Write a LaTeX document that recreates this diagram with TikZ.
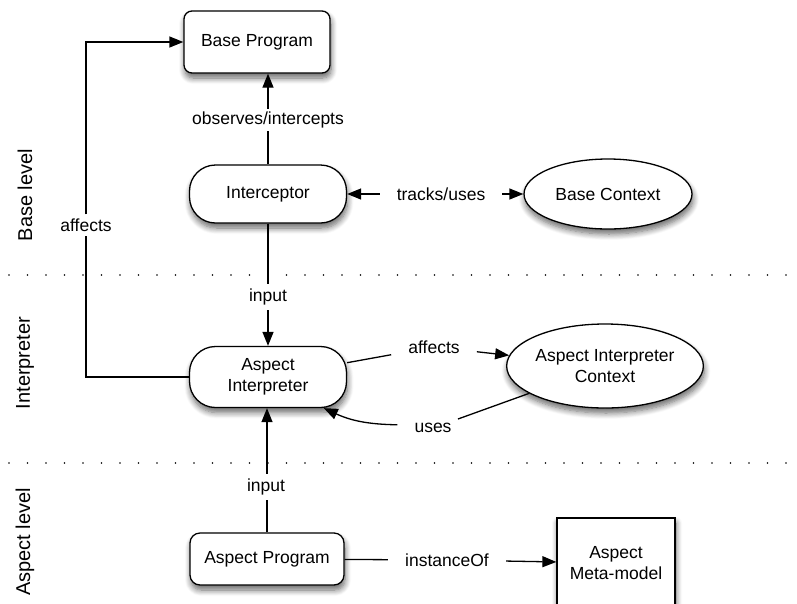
\documentclass[tikz,border=0pt]{standalone}
\usepackage{fontspec}
\setmainfont{Liberation Sans}
\usetikzlibrary{arrows.meta,shapes.geometric,shadows.blur}
\begin{document}
\begin{tikzpicture}[x=1pt,y=-1pt,
  font=\fontsize{17.5}{21.5}\selectfont,
  base/.style={draw=black,line width=1.3pt,fill=white,align=center,inner sep=0pt,
    blur shadow={shadow xshift=1pt,shadow yshift=-5pt,shadow blur steps=8,shadow blur radius=6pt,shadow opacity=60}},
  rbox/.style={base,rectangle,rounded corners=#1},
  ell/.style={base,ellipse},
  conn/.style={line width=1.3pt},
  arr/.style={conn,-{Triangle[length=14pt,width=11pt]}},
  larr/.style={conn,{Triangle[length=14pt,width=11pt]}-},
  lbl/.style={inner xsep=17pt,inner ysep=4pt},
  vlbl/.style={rotate=90,font=\fontsize{20}{24}\selectfont},
  sep/.style={line width=1.8pt,line cap=round,dash pattern=on 0pt off 18.5pt}
]
\useasboundingbox (0,0) rectangle (797,603);
% level separators
\draw[sep] (9,275) -- (797,275);
\draw[sep] (9,463) -- (797,463);
% level labels
\node[vlbl] (lvbase) at (25,195) {Base level};
\node[vlbl] (lvint) at (25,363) {Interpreter};
\node[vlbl] (lvasp) at (25,542) {Aspect level};
% nodes
\node[rbox=8pt,minimum width=146pt,minimum height=62pt] (bp) at (257,42) {Base Program};
\node[rbox=26pt,minimum width=157pt,minimum height=58pt] (ic) at (268,194) {Interceptor};
\node[ell,minimum width=168pt,minimum height=70pt] (bc) at (608,194) {Base Context};
\node[rbox=26pt,minimum width=157pt,minimum height=61pt] (ai) at (268,377) {Aspect\\Interpreter};
\node[ell,minimum width=176pt,minimum height=84pt] (aic) at (605,366) {Aspect Interpreter\\Context};
\node[rbox=10pt,minimum width=154pt,minimum height=52pt] (ap) at (267,559) {Aspect Program};
\node[base,rectangle,minimum width=118pt,minimum height=90pt] (amm) at (616,563) {Aspect\\Meta-model};
% labels
\node[inner sep=3pt] (obs) at (268,120) {observes/intercepts};
\node[lbl] (tu) at (441,194) {tracks/uses};
\node[inner sep=5pt] (in1) at (268,297) {input};
\node[inner sep=5pt] (in2) at (266,487) {input};
\node[lbl] (inst) at (447,560) {instanceOf};
\node[inner sep=4pt] (aff1) at (86,225) {affects};
\node[lbl] (aff2) at (434,347) {affects};
\node[lbl] (uses) at (433,428) {uses};
\coordinate (c1) at (86,377);
\coordinate (c2) at (86,42);
% connectors
\draw[conn] (ic.north) -- (obs);
\draw[arr] (obs) -- (obs |- bp.south);
\draw[larr] (ic) -- (tu);
\draw[arr] (tu) -- (bc);
\draw[conn] (ic) -- (in1);
\draw[arr] (in1.south -| ai.north) -- (ai.north);
\draw[conn] (ap.north) -- (ap.north |- in2.south);
\draw[arr] (ap.north |- in2.north) -- (ap.north |- ai.south);
\draw[conn] (ap) -- (inst);
\draw[arr] (inst) -- (amm);
\draw[conn] (ai.west) -- (c1) -- (aff1);
\draw[arr] (aff1) -- (c2) -- (bp.west);
\draw[conn] (ai) -- (aff2);
\draw[arr] (aff2) -- (aic);
\draw[conn] (aic) -- (uses);
\draw[arr] (uses) to[bend left=12] (ai);
\end{tikzpicture}
\end{document}
